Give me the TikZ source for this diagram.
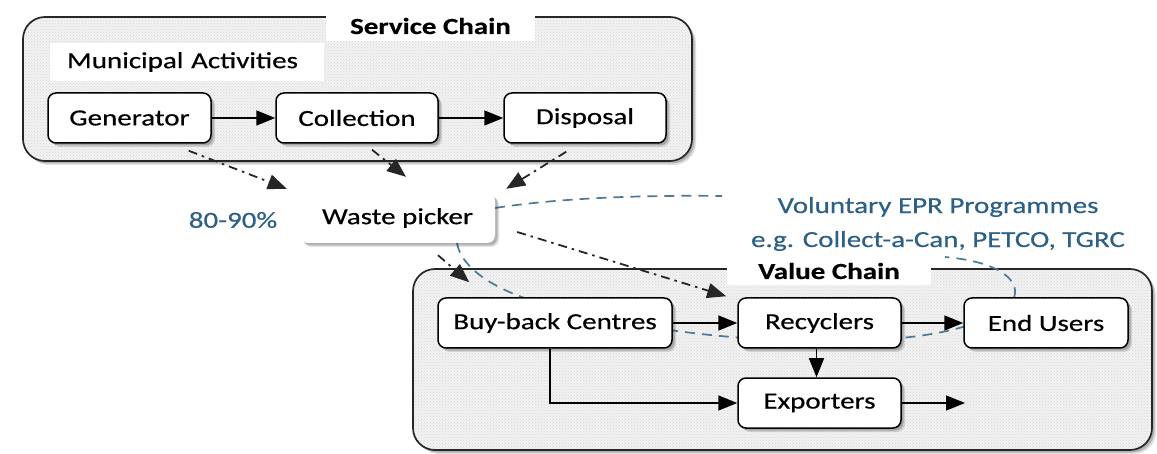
\documentclass[tikz,border=0pt]{standalone}
\usepackage{fontspec}
\setmainfont{Carlito}[FakeStretch=1.26,FakeBold=0.5]
\usetikzlibrary{arrows.meta,calc,patterns,shadows}

\definecolor{eprblue}{RGB}{44,96,134}
\definecolor{eprdash}{RGB}{74,122,152}

\tikzset{
  txt/.style={font=\fontsize{23pt}{27pt}\selectfont},
  softshadow/.style={
    drop shadow={shadow xshift=4pt,shadow yshift=-4pt,opacity=.12,fill=black},
    drop shadow={shadow xshift=2.5pt,shadow yshift=-2.5pt,opacity=.20,fill=black}},
  chainbox/.style={draw=black!85,line width=1.7pt,rounded corners=22pt,inner sep=0pt,
    softshadow,preaction={fill=black!5},pattern=crosshatch dots,pattern color=black!16},
  stepbox/.style={txt,draw=black,line width=1.5pt,rounded corners=8pt,fill=white,
    inner sep=0pt,minimum height=50pt,softshadow},
  pickerbox/.style={txt,rounded corners=8pt,fill=white,inner sep=0pt,
    minimum width=195pt,minimum height=50pt,softshadow},
  titlebox/.style={txt,font=\fontsize{23pt}{27pt}\selectfont\bfseries,fill=white,inner sep=0pt},
  flow/.style={line width=1.5pt,-{Triangle[length=19pt,width=15pt]}},
  feed/.style={line width=1.8pt,black!85,dash pattern=on 9pt off 5pt on 2.5pt off 5pt,
    -{Triangle[length=19pt,width=15pt]}},
  eprline/.style={eprdash,line width=1.7pt,dash pattern=on 10pt off 7pt},
  eprtext/.style={txt,text=eprblue}
}

\begin{document}
\begin{tikzpicture}[x=1pt,y=-1pt]
\useasboundingbox (0,0) rectangle (1157,454);

% the two chains
\node[chainbox,minimum width=669pt,minimum height=144pt] (service) at (357.5,89) {};
\node[chainbox,minimum width=739pt,minimum height=181pt] (value) at (782.5,359.5) {};

% chain titles
\node[titlebox,minimum width=209pt,minimum height=30pt] (stitle) at (430.5,26) {Service Chain};
\node[titlebox,minimum width=204pt,minimum height=28pt] (vtitle) at (829,271) {Value Chain};
\node[txt,fill=white,inner xsep=17pt,inner ysep=0pt,text width=240pt,align=left,
      minimum height=38pt] (muni) at (187,62) {Municipal Activities};

% EPR programme loop, drawn behind the value chain boxes
\draw[eprline] (457,243) .. controls (461,268) and (495,290) .. (540,303)
  .. controls (610,322) and (700,340) .. (820,341)
  .. controls (915,342) and (985,330) .. (1013,300)
  .. controls (1022,282) and (1002,262) .. (945,257);
\draw[eprline] (495,208) .. controls (560,198) and (640,195) .. (722,196);

% service chain steps
\node[stepbox,minimum width=163pt] (gen) at (129.5,118) {Generator};
\node[stepbox,minimum width=162pt] (col) at (357,118) {Collection};
\node[stepbox,minimum width=162pt] (disp) at (585,118) {Disposal};

% waste picker
\node[pickerbox] (wp) at (397.5,218) {Waste picker};
\node[eprtext] (share) at (233,220) {80-90\%};

% value chain steps
\node[stepbox,minimum width=234pt] (bb) at (555,323) {Buy-back Centres};
\node[stepbox,minimum width=163pt] (rec) at (819.5,323) {Recyclers};
\node[stepbox,minimum width=164pt] (eu) at (1046,323) {End Users};
\node[stepbox,minimum width=163pt] (exp) at (819.5,403) {Exporters};
\coordinate (abroad) at (965,403);

% EPR programme label
\node[eprtext] (epr1) at (938,207) {Voluntary EPR Programmes};
\node[eprtext] (epr2) at (938,241) {e.g. Collect-a-Can, PETCO, TGRC};

% material flows
\draw[flow] (gen) -- (col);
\draw[flow] (col) -- (disp);
\draw[flow] (bb) -- (rec);
\draw[flow] (rec) -- (eu);
\draw[flow] ($(rec.south)+(-3,0)$) -- ($(exp.north)+(-3,0)$);
\draw[flow] ($(bb.south)+(-5,0)$) |- (exp.west);
\draw[flow] (exp) -- (abroad);

% informal collection by waste pickers
\draw[feed] ($(gen.south east)+(-23,7)$) -- ($(wp.north west)+(-13,-4)$);
\draw[feed] ($(col.south)+(15,6)$) -- ($(wp.north)+(8.5,-16)$);
\draw[feed] ($(disp.south west)+(63,8)$) -- ($(wp.north east)+(11,-4)$);
\draw[feed] ($(wp.south)+(40.5,12)$) -- ($(bb.north west)+(32,-15)$);
\draw[feed] ($(wp.east)+(22,14)$) -- ($(rec.north west)+(-11,-1)$);
\end{tikzpicture}
\end{document}
